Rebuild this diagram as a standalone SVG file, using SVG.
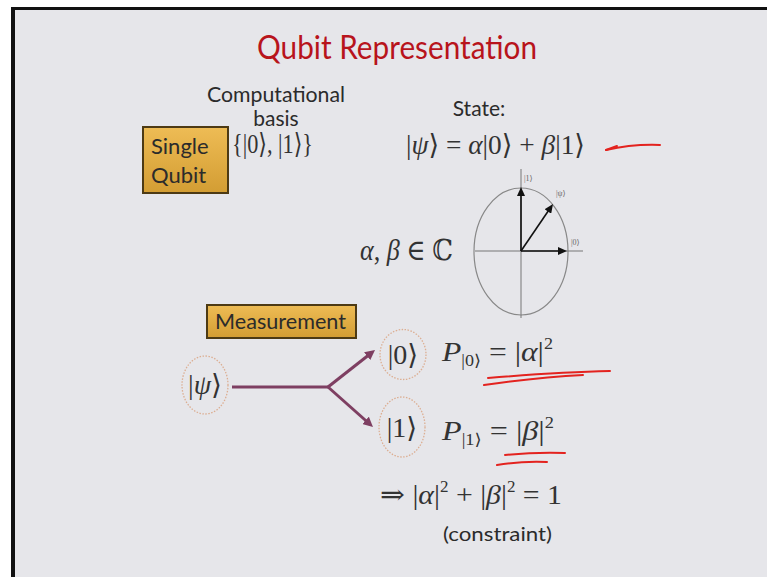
<svg xmlns="http://www.w3.org/2000/svg" width="767" height="577" viewBox="0 0 767 577">
<defs>
<linearGradient id="gold" x1="0" y1="0" x2="0" y2="1">
<stop offset="0" stop-color="#eebc55"/>
<stop offset="1" stop-color="#d39d33"/>
</linearGradient>
<marker id="pa" viewBox="0 0 10 10" refX="4" refY="5" markerWidth="10" markerHeight="10" markerUnits="userSpaceOnUse" orient="auto">
<path d="M0,0 L10,5 L0,10 z" fill="#7e3f62"/>
</marker>
<marker id="ba" viewBox="0 0 9 8" refX="3" refY="4" markerWidth="9" markerHeight="8" markerUnits="userSpaceOnUse" orient="auto">
<path d="M0,0 L9,4 L0,8 z" fill="#111"/>
</marker>
</defs>
<style>
.sans{font-family:Lato,"Open Sans","Liberation Sans",sans-serif;fill:#2b2b2b}
.math{font-family:"Liberation Serif","DejaVu Serif",serif;fill:#333}
.it{font-style:italic}
.box{fill:url(#gold);stroke:#4d3a14;stroke-width:2}
.ring{fill:none;stroke:#dcae92;stroke-width:1.3;stroke-dasharray:1.5 1.5}
.conn{fill:none;stroke:#7e3f62;stroke-width:3}
.axis{fill:none;stroke:#777;stroke-width:1}
.vec{fill:none;stroke:#111;stroke-width:1.6;marker-end:url(#ba)}
.red{fill:none;stroke:#e3231f;stroke-width:2;stroke-linecap:round}
.lbl{font-family:"Liberation Serif","DejaVu Serif",serif;font-size:8px;fill:#666}
</style>
<rect x="0" y="0" width="767" height="577" fill="#ffffff"/>
<rect x="11" y="7" width="756" height="570" fill="#e6e6ea"/>
<rect x="11" y="7" width="756" height="3" fill="#111"/>
<rect x="11" y="7" width="4" height="570" fill="#111"/>

<g id="title">
<text x="397" y="59" text-anchor="middle" font-family="Lato,'Open Sans','Liberation Sans',sans-serif" font-size="32" fill="#b8141c" textLength="280" lengthAdjust="spacingAndGlyphs">Qubit Representation</text>
</g>

<g id="basis-label">
<text class="sans" x="276" y="102" text-anchor="middle" font-size="21" textLength="138" lengthAdjust="spacingAndGlyphs">Computational</text>
<text class="sans" x="276" y="126" text-anchor="middle" font-size="21">basis</text>
</g>

<g id="single-qubit">
<rect class="box" x="143" y="127" width="85" height="66"/>
<text class="sans" x="151" y="154" font-size="22" fill="#2a2a2a">Single</text>
<text class="sans" x="151" y="183" font-size="22" fill="#2a2a2a">Qubit</text>
</g>

<g id="basis-set">
<text class="math" x="232" y="153" font-size="28" textLength="81" lengthAdjust="spacingAndGlyphs">{|0⟩, |1⟩}</text>
</g>

<g id="state">
<text class="sans" x="479" y="116" text-anchor="middle" font-size="21">State:</text>
<text class="math" x="406" y="154" font-size="28" textLength="179" lengthAdjust="spacingAndGlyphs">|<tspan class="it">ψ</tspan>⟩ = <tspan class="it">α</tspan>|0⟩ + <tspan class="it">β</tspan>|1⟩</text>
</g>

<g id="red-arrow">
<path class="red" d="M660,145 Q632,144 606,150"/>
<path class="red" d="M606,150 L617,146"/>
</g>

<g id="complex">
<text class="math" x="360" y="260" font-size="29" textLength="93" lengthAdjust="spacingAndGlyphs"><tspan class="it">α</tspan>, <tspan class="it">β</tspan> ∈ ℂ</text>
</g>

<g id="bloch-circle">
<ellipse cx="521" cy="251.5" rx="47" ry="63.5" fill="none" stroke="#888" stroke-width="1.2"/>
<line class="axis" x1="521" y1="169" x2="521" y2="318"/>
<line class="axis" x1="475" y1="251" x2="583" y2="251"/>
<line class="vec" x1="521" y1="251" x2="521" y2="193"/>
<line class="vec" x1="521" y1="251" x2="561" y2="251"/>
<line class="vec" x1="521" y1="251" x2="549.6" y2="209"/>
<text class="lbl" x="524" y="181">|1⟩</text>
<text class="lbl" x="556" y="196">|ψ⟩</text>
<text class="lbl" x="571" y="245">|0⟩</text>
</g>

<g id="measurement">
<rect class="box" x="207" y="305" width="149" height="33"/>
<text class="sans" x="215" y="329" font-size="21" textLength="131" lengthAdjust="spacingAndGlyphs">Measurement</text>
</g>

<g id="psi-node">
<ellipse class="ring" cx="205" cy="385" rx="23" ry="29"/>
<text class="math" x="205" y="394" text-anchor="middle" font-size="28">|<tspan class="it">ψ</tspan>⟩</text>
</g>

<g id="zero-node">
<ellipse class="ring" cx="403" cy="354.5" rx="23" ry="25"/>
<text class="math" x="403" y="364" text-anchor="middle" font-size="28">|0⟩</text>
</g>

<g id="one-node">
<ellipse class="ring" cx="402" cy="427" rx="23" ry="30"/>
<text class="math" x="402" y="437" text-anchor="middle" font-size="28">|1⟩</text>
</g>

<g id="connectors">
<path class="conn" d="M232,387 L328,387"/>
<path class="conn" d="M328,387 L370.3,353.7" marker-end="url(#pa)"/>
<path class="conn" d="M328,387 L368.5,423" marker-end="url(#pa)"/>
</g>

<g id="prob0">
<text class="math" x="442" y="361" font-size="28" textLength="111" lengthAdjust="spacingAndGlyphs"><tspan class="it">P</tspan><tspan font-size="16" dy="5">|0⟩</tspan><tspan dy="-5"> = |</tspan><tspan class="it">α</tspan>|<tspan font-size="16" dy="-12">2</tspan></text>
<path class="red" d="M484,385 Q540,377 583,375"/>
<path class="red" d="M488,378 Q560,372 610,371"/>
</g>

<g id="prob1">
<text class="math" x="442" y="440" font-size="28" textLength="112" lengthAdjust="spacingAndGlyphs"><tspan class="it">P</tspan><tspan font-size="16" dy="5">|1⟩</tspan><tspan dy="-5"> = |</tspan><tspan class="it">β</tspan>|<tspan font-size="16" dy="-12">2</tspan></text>
<path class="red" d="M505,455 Q535,452 565,453"/>
<path class="red" d="M497,465 Q520,461 547,462"/>
</g>

<g id="constraint">
<text class="math" x="380" y="504" font-size="28" textLength="182" lengthAdjust="spacingAndGlyphs">⇒ |<tspan class="it">α</tspan>|<tspan font-size="16" dy="-12">2</tspan><tspan dy="12"> + |</tspan><tspan class="it">β</tspan>|<tspan font-size="16" dy="-12">2</tspan><tspan dy="12"> = 1</tspan></text>
<text class="sans" x="443" y="541" font-size="20" textLength="109" lengthAdjust="spacingAndGlyphs">(constraint)</text>
</g>
</svg>
